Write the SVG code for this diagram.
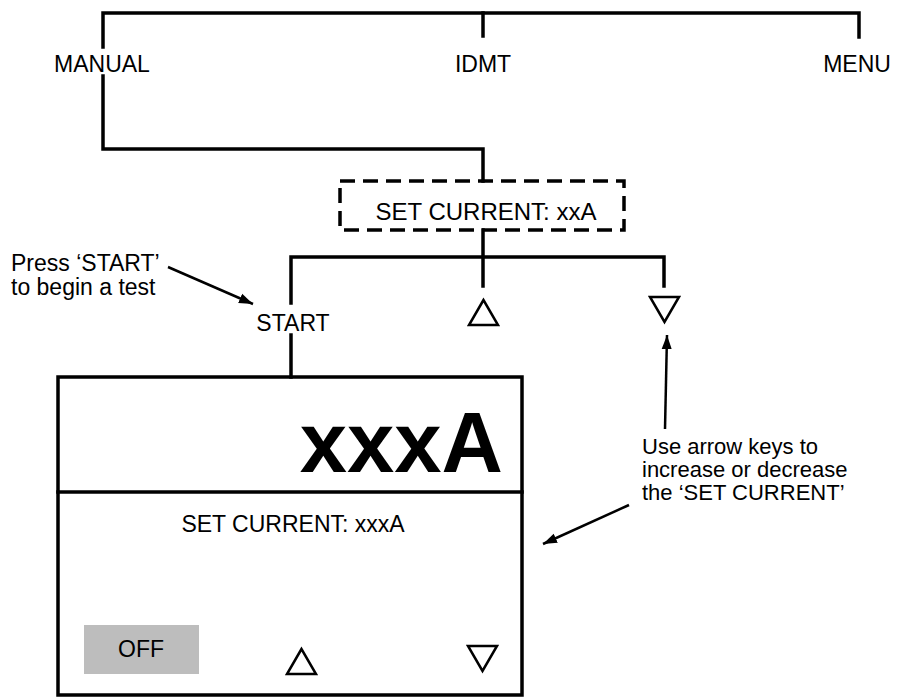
<svg xmlns="http://www.w3.org/2000/svg" width="898" height="698" viewBox="0 0 898 698">
<style>
  .t { font-family: "Liberation Sans", Arial, sans-serif; font-size: 23px; fill: #000; }
  .n { font-family: "Liberation Sans", Arial, sans-serif; font-size: 22px; fill: #000; }
  .c { text-anchor: middle; }
  .w { fill: none; stroke: #000; stroke-width: 3.5; stroke-linecap: square; }
  .dash { fill: none; stroke: #000; stroke-width: 3.5; stroke-dasharray: 15 8; }
  .tri { fill: #fff; stroke: #000; stroke-width: 2.5; stroke-linejoin: miter; }
  .arr { fill: none; stroke: #000; stroke-width: 2.5; }
</style>
<defs>
  <marker id="ah" markerUnits="userSpaceOnUse" markerWidth="16" markerHeight="12" refX="14" refY="6" orient="auto">
    <path d="M0,1 L14,6 L0,11 Z" fill="#000"/>
  </marker>
</defs>
<rect width="898" height="698" fill="#fff"/>

<g id="connectors">
  <path class="w" d="M103,47 V13 H859 V37"/>
  <path class="w" d="M483,13 V36"/>
  <path class="w" d="M103,76 V149 H483 V181"/>
  <path class="w" d="M483,230 V286"/>
  <path class="w" d="M291,303 V257 H664 V286"/>
  <path class="w" d="M291,335 V377"/>
</g>

<g id="menu-manual"><text class="t c" x="102" y="72">MANUAL</text></g>
<g id="menu-idmt"><text class="t c" x="483" y="72">IDMT</text></g>
<g id="menu-menu"><text class="t c" x="857" y="72">MENU</text></g>

<g id="set-current-box">
  <rect class="dash" x="340" y="181" width="284" height="49"/>
  <text class="t c" x="486" y="220" style="font-size:24px">SET CURRENT: xxA</text>
</g>

<g id="key-start"><text class="t c" x="293" y="331">START</text></g>
<g id="key-up"><polygon class="tri" points="483.5,300 469,325 498,325"/></g>
<g id="key-down"><polygon class="tri" points="650,297 679,297 664.5,322"/></g>

<g id="note-start">
  <text class="n" x="11" y="271" style="font-size:23px">Press ‘START’</text>
  <text class="n" x="11" y="295" style="font-size:23px">to begin a test</text>
</g>
<g id="note-arrows">
  <text class="n" x="642" y="454">Use arrow keys to</text>
  <text class="n" x="642" y="477">increase or decrease</text>
  <text class="n" x="642" y="500">the ‘SET CURRENT’</text>
</g>

<g id="annotation-arrows">
  <line class="arr" x1="168" y1="267" x2="253" y2="304" marker-end="url(#ah)"/>
  <line class="arr" x1="665" y1="429" x2="667" y2="335" marker-end="url(#ah)"/>
  <line class="arr" x1="629" y1="505" x2="543" y2="544" marker-end="url(#ah)"/>
</g>

<g id="display">
  <rect class="w" x="58" y="377" width="464" height="318"/>
  <line class="w" x1="58" y1="492" x2="522" y2="492"/>
  <text x="503" y="472" text-anchor="end" style="font-family:'Liberation Sans', Arial, sans-serif; font-size:85px; font-weight:bold;">xxxA</text>
  <text class="t c" x="293" y="532">SET CURRENT: xxxA</text>
  <rect x="84" y="625" width="115" height="49" fill="#bdbdbd"/>
  <text class="t c" x="141" y="657">OFF</text>
  <polygon class="tri" points="301.5,649 287,674 316,674"/>
  <polygon class="tri" points="468,646 497,646 482.5,671"/>
</g>
</svg>
